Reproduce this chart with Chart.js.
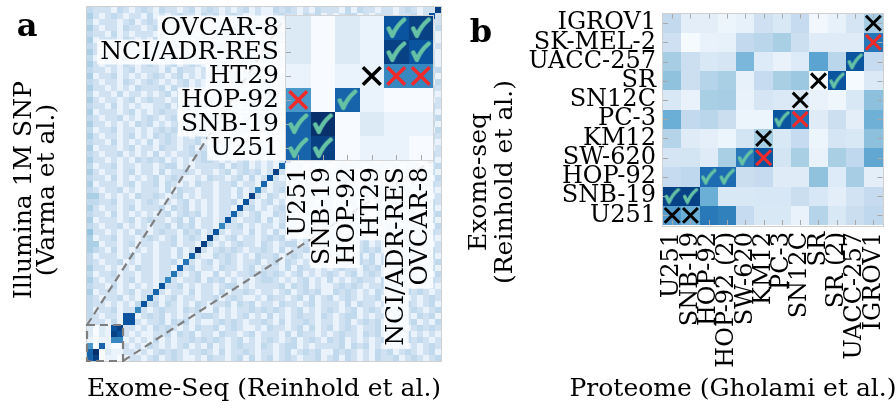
<!DOCTYPE html>
<html>
<head>
<meta charset="utf-8">
<script src="https://cdn.jsdelivr.net/npm/chart.js"></script>
<style>
  body { margin: 0; background: #fff; }
  #wrap { position: relative; width: 896px; height: 409px; overflow: hidden; }
  canvas { position: absolute; top: 0; }
</style>
</head>
<body>
<div id="wrap">
  <canvas id="big" width="450" height="409" style="left:0"></canvas>
  <canvas id="inset" width="450" height="409" style="left:0"></canvas>
  <canvas id="prot" width="446" height="409" style="left:450px"></canvas>
</div>
<script>
// ---- panel a: Exome-Seq vs Illumina SNP similarity, 59 lines
// one hex digit per cell (0 = white ... f = darkest), rows listed top -> bottom
const snpRows = [
  "4333143134 3143313413 4313134131 1434313143 3314143313 31343133e",
  "5313431331 4131343314 3413431131 1343314341 3134413133 3133413d3",
  "4133313413 4331341413 1413133434 3341434131 4134313341 313341c33",
  "5313314331 3431341313 1343431334 3414313143 4313413431 31334e314",
  "4331413133 3141334313 1334143413 4341313134 3134134341 3133d3131",
  "5133314313 1434313143 4131343314 1343314341 4331341413 313b31331",
  "4313341313 3341434131 3431341313 3414313143 3141334313 31d313413",
  "5331313431 4341313134 3143313413 3314143313 3413431131 3c1334131",
  "4133143131 3134413133 1413133434 4134313341 1343431334 e31341331",
  "5313314313 4313413431 1334143413 3134134341 313413313d 413431341",
  "4331313413 3314143313 1343314341 1413133434 31341331c3 341343134",
  "5133413131 3431341313 4313413431 4341313134 3133141d31 134314341",
  "4313314313 4313134131 4131343314 3134413133 313341b313 431341314",
  "5331313143 3341434131 1343431334 3141334313 31331d3413 314134343",
  "4133141331 3134134341 1434313143 3413431131 3133e31341 343413131",
  "5313313413 4331341413 4134313341 3414313143 313c313341 131434313",
  "4331413131 1334143413 3143313413 3314143313 31d3341313 434131343",
  "5133313413 1343314341 1413133434 3431341313 3c31331413 413431341",
  "4313341313 4313413431 4341313134 4313134131 d313413313 341343134",
  "5331313143 4131343314 3134413133 313341331e 3341434131 134314341",
  "4133413313 1343431334 3141334313 31331413c3 3134134341 431341314",
  "5313313413 1434313143 3413431131 3133141d31 4331341413 314134343",
  "4331413131 4134313341 3414313143 313341b313 1334143413 343413131",
  "5133313413 3143313413 3314143313 31331d3413 1343314341 131434313",
  "4313341313 1413133434 3431341313 3133c31341 4313413431 434131343",
  "5331313143 4341313134 4313134131 313d313341 4131343314 413431341",
  "4133413313 3134413133 3341434131 31c3341313 1343431334 341343134",
  "5313313413 3141334313 3134134341 3e31331413 1434313143 134314341",
  "4331413131 3413431131 4331341413 d313413313 4134313341 431341314",
  "5133313413 3414313143 313341331c 1334143413 3143313413 314134343",
  "4313341313 3314143313 31331413a3 1343314341 1413133434 343413131",
  "5531313143 3431341313 3133141e31 4313413431 4341313134 131434313",
  "4433413313 4313134131 313341d313 4131343314 3134413133 434131343",
  "5313313413 3341434131 31331d3413 1343431334 3141334313 413431341",
  "4331413131 3134134341 3133c31341 1434313143 3413431131 341343134",
  "5133313413 4331341413 313d313341 4134313341 3414313143 134314341",
  "4313341313 1334143413 31a3341313 3143313413 3314143313 431341314",
  "6331313143 1343314341 3d31331413 1413133434 3431341313 314134343",
  "5133413313 4313413431 e313413313 4341313134 4313134131 343413131",
  "5513313413 313341331e 4131343314 3134413133 3341434131 131434313",
  "5431413131 31331413f3 1343431334 3141334313 3134134341 434131343",
  "4133313413 3133141c31 1434313143 3413431131 4331341413 413431341",
  "4313341313 313341b313 4134313341 3414313143 1334143413 341343134",
  "5331313143 31331c3413 3143313413 3314143313 1343314341 134314341",
  "4133413313 3133b31341 1413133434 3431341313 4313413431 431341314",
  "5313313413 313a313341 4341313134 4313134131 4131343314 314134343",
  "4331413131 31d3341313 3134413133 3341434131 1343431334 343413131",
  "5133313413 3c31331413 3141334313 3134134341 1434313143 131434313",
  "4313341313 c313413313 3413431131 4331341413 4134313341 434131343",
  "433131314d 3414313143 1334143413 3143313413 3314143313 413431341",
  "41334133a3 1343314341 1413133434 3431341313 4313413431 341343134",
  "431331dd13 4341313134 4313134131 4131343314 3134413133 134314341",
  "333141dd31 3341434131 1343431334 3141334313 3134134341 431341314",
  "2021de3313 1434313143 3413431131 4331341413 4134313341 314134343",
  "2021ed3131 1334143413 3143313413 3314143313 1343314341 343413131",
  "1011aa1313 1413133434 3431341313 4313413431 4341313134 131434313",
  "90c1003131 4313134131 4131343314 3134413133 3341434131 434131343",
  "cf02113313 1343431334 3141334313 3134134341 1434313143 413431341",
  "ce01101331 3413431131 4331341413 4134313341 3414313143 341343134"
];

// zoomed corner (first 6 lines of the matrix), [col, row] with row 0 at the bottom
const insetLabels = ['U251', 'SNB-19', 'HOP-92', 'HT29', 'NCI/ADR-RES', 'OVCAR-8'];
const insetChecks = [[0, 0], [1, 0], [0, 1], [1, 1], [2, 2], [4, 4], [5, 4], [4, 5], [5, 5]];
const insetRedX = [[0, 2], [4, 3], [5, 3]];
const insetBlackX = [[3, 3]];

// ---- panel b: Exome-seq vs Proteome
const protCols = ['U251', 'SNB-19', 'HOP-92', 'HOP-92 (2)', 'SW-620', 'KM12', 'PC-3',
                  'SN12C', 'SR', 'SR (2)', 'UACC-257', 'IGROV1'];
// rows bottom -> top
const protRows = ['U251', 'SNB-19', 'HOP-92', 'SW-620', 'KM12', 'PC-3', 'SN12C', 'SR',
                  'UACC-257', 'SK-MEL-2', 'IGROV1'];
const protValues = [
  [58, 50, 72, 69, 25, 15, 15,  7, 30, 15, 23, 27],
  [93, 93, 50, 15, 15, 16, 16, 23, 16, 10, 19, 25],
  [25, 27, 77, 77, 23, 25, 12, 12, 41, 13, 35, 10],
  [17, 18, 12, 34, 72, 86, 18, 34,  7, 34, 27, 53],
  [30, 12,  9,  5, 18, 34, 15, 25,  5, 17, 15, 42],
  [50, 26, 29, 23,  5,  5, 86, 75, 12, 22, 10, 49],
  [15,  7, 34, 35,  7, 17, 14, 14,  7,  4, 15, 42],
  [41, 22, 30, 34,  8, 25, 34, 38,  1, 86,  1, 14],
  [35, 22, 15, 17, 46, 13,  7, 13, 55, 29, 86, 25],
  [21,  1,  7,  8, 26, 29, 34, 22, 12, 12, 12, 73],
  [26, 10, 10,  5,  8, 21, 15, 25,  3,  8, 17, 35]
];
const protChecks = [[0, 1], [1, 1], [2, 2], [3, 2], [4, 3], [6, 5], [9, 7], [10, 8]];
const protRedX = [[5, 3], [7, 5], [11, 9]];
const protBlackX = [[0, 0], [1, 0], [5, 4], [7, 6], [8, 7], [11, 10]];

// ---------------------------------------------------------------
const SERIF = "'DejaVu Serif', serif";
Chart.defaults.font.family = SERIF;
Chart.defaults.color = '#000';

const snp = snpRows.map(s => s.replace(/ /g, '').split('').map(c => parseInt(c, 16) / 15)).reverse();
snp.forEach((r, i) => { if (r.length !== 59) throw new Error('snp row ' + i + ' has ' + r.length); });
const insetValues = snp.slice(0, 6).map(r => r.slice(0, 6));
const protMatrix = protValues.map(r => r.map(v => v / 100));

// matplotlib "Blues"
const blues = ['#f7fbff', '#deebf7', '#c6dbef', '#9ecae1', '#6baed6', '#4292c6', '#2171b5', '#08519c', '#08306b']
  .map(h => [1, 3, 5].map(k => parseInt(h.substr(k, 2), 16)));
function blue(v) {
  v = Math.max(0, Math.min(1, v));
  const p = v * 8, i = Math.min(7, Math.floor(p)), t = p - i;
  const c = blues[i].map((a, k) => Math.round(a + (blues[i + 1][k] - a) * t));
  return 'rgb(' + c.join(',') + ')';
}

function makeHeatmap(values, nCols, nRows, tickSides, frameColor) {
  return {
    id: 'heatmap',
    beforeDatasetsDraw(chart) {
      const {ctx, chartArea: a, scales: {x, y}} = chart;
      ctx.save();
      for (let j = 0; j < nRows; j++) {
        for (let i = 0; i < nCols; i++) {
          const x0 = Math.round(x.getPixelForValue(i - 0.5));
          const x1 = Math.round(x.getPixelForValue(i + 0.5));
          const y0 = Math.round(y.getPixelForValue(j + 0.5));
          const y1 = Math.round(y.getPixelForValue(j - 0.5));
          ctx.fillStyle = blue(values[j][i]);
          ctx.fillRect(x0, y0, x1 - x0, y1 - y0);
        }
      }
      // short ticks pointing inwards
      ctx.strokeStyle = '#a8a8a8';
      ctx.lineWidth = 1;
      ctx.beginPath();
      for (let i = 0; i < nCols && tickSides.length; i++) {
        const px = Math.round(x.getPixelForValue(i)) + 0.5;
        if (tickSides.includes('bottom')) { ctx.moveTo(px, a.bottom); ctx.lineTo(px, a.bottom - 5); }
        if (tickSides.includes('top')) { ctx.moveTo(px, a.top); ctx.lineTo(px, a.top + 5); }
      }
      for (let j = 0; j < nRows && tickSides.length; j++) {
        const py = Math.round(y.getPixelForValue(j)) + 0.5;
        if (tickSides.includes('left')) { ctx.moveTo(a.left, py); ctx.lineTo(a.left + 5, py); }
        if (tickSides.includes('right')) { ctx.moveTo(a.right, py); ctx.lineTo(a.right - 5, py); }
      }
      ctx.stroke();
      ctx.strokeStyle = frameColor;
      ctx.strokeRect(Math.round(a.left) - 0.5, Math.round(a.top) - 0.5, Math.round(a.width) + 1, Math.round(a.height) + 1);
      ctx.restore();
    }
  };
}

function makeText(items) {
  return {
    id: 'texts',
    afterDraw(chart) {
      const ctx = chart.ctx;
      items.forEach(t => {
        ctx.save();
        ctx.translate(t.x, t.y);
        if (t.rot) ctx.rotate(t.rot * Math.PI / 180);
        ctx.font = t.font || ('25px ' + SERIF);
        ctx.fillStyle = '#000';
        ctx.textAlign = 'center';
        ctx.textBaseline = t.baseline || 'middle';
        ctx.fillText(t.text, 0, 0);
        ctx.restore();
      });
    }
  };
}

function checkMark(s) {
  const c = document.createElement('canvas');
  c.width = c.height = s;
  const g = c.getContext('2d');
  g.strokeStyle = '#66c2a5';
  g.lineWidth = s * 0.2;
  g.lineCap = 'round';
  g.lineJoin = 'round';
  g.beginPath();
  g.moveTo(s * 0.16, s * 0.52);
  g.lineTo(s * 0.32, s * 0.86);
  g.quadraticCurveTo(s * 0.5, s * 0.42, s * 0.86, s * 0.12);
  g.stroke();
  return c;
}

function markSets(checks, red, black, img, r, w) {
  const pts = arr => arr.map(([x, y]) => ({x, y}));
  return [
    {data: pts(checks), pointStyle: img, pointRadius: 8},
    {data: pts(red), pointStyle: 'crossRot', pointRadius: r, pointBorderWidth: w, pointBorderColor: '#ee2a2a'},
    {data: pts(black), pointStyle: 'crossRot', pointRadius: r, pointBorderWidth: w, pointBorderColor: '#000'}
  ];
}

function labelAxis(labels, n, opts) {
  return Object.assign({
    type: 'linear', min: -0.5, max: n - 0.5, bounds: 'data',
    grid: {display: false, drawTicks: false},
    border: {display: false},
    afterBuildTicks: s => { s.ticks = labels.map((_, i) => ({value: i})); }
  }, opts);
}

// ---- inset (drawn on top of the big matrix)
const insetTicks = {
  autoSkip: false, padding: 7, color: '#000',
  font: {size: 25, lineHeight: 1},
  showLabelBackdrop: true, backdropColor: 'rgba(255,255,255,0.85)',
  backdropPadding: {left: 3, right: 7, top: 0, bottom: 0},
  callback: v => insetLabels[v]
};
const insetChart = new Chart(document.getElementById('inset'), {
  type: 'scatter',
  data: {datasets: markSets(insetChecks, insetRedX, insetBlackX, checkMark(22), 12.5, 3.5)},
  options: {
    responsive: false, animation: false, events: [],
    layout: {padding: {left: 86, top: 14, right: 17, bottom: 59}},
    scales: {
      x: labelAxis(insetLabels, 6, {
        afterFit: s => { s.height = 190; s.paddingLeft = 0; s.paddingRight = 0; },
        ticks: Object.assign({}, insetTicks, {minRotation: 90, maxRotation: 90, labelOffset: -12.5})
      }),
      y: labelAxis(insetLabels, 6, {
        afterFit: s => { s.width = 200; s.paddingTop = 0; s.paddingBottom = 0; },
        ticks: insetTicks
      })
    },
    plugins: {legend: {display: false}, tooltip: {enabled: false}}
  },
  plugins: [makeHeatmap(insetValues, 6, 6, ['left', 'bottom'], '#d4d4d4')]
});

// dashed zoom guides from the bottom-left corner to the inset
const zoomLines = {
  id: 'zoomLines',
  afterDatasetsDraw(chart) {
    const {ctx, scales: {x, y}} = chart;
    const ia = insetChart.chartArea;
    const sx0 = x.getPixelForValue(-0.5), sx1 = x.getPixelForValue(5.5);
    const sy0 = y.getPixelForValue(5.5), sy1 = y.getPixelForValue(-0.5);
    ctx.save();
    ctx.strokeStyle = '#7f7f7f';
    ctx.lineWidth = 2.2;
    ctx.setLineDash([8, 5]);
    ctx.strokeRect(sx0, sy0, sx1 - sx0, sy1 - sy0);
    ctx.beginPath();
    ctx.moveTo(sx0, sy0); ctx.lineTo(ia.left, ia.top);
    ctx.moveTo(sx1, sy1); ctx.lineTo(ia.right, ia.bottom);
    ctx.stroke();
    ctx.restore();
  }
};

const bigChart = new Chart(document.getElementById('big'), {
  type: 'scatter',
  data: {datasets: []},
  options: {
    responsive: false, animation: false, events: [],
    layout: {padding: {left: 87, top: 7, right: 9, bottom: 48}},
    scales: {
      x: {type: 'linear', display: false, min: -0.5, max: 58.5},
      y: {type: 'linear', display: false, min: -0.5, max: 58.5}
    },
    plugins: {legend: {display: false}, tooltip: {enabled: false}}
  },
  plugins: [
    makeHeatmap(snp, 59, 59, [], '#d0d0d0'),
    zoomLines,
    makeText([
      {text: 'a', x: 27, y: 36, baseline: 'alphabetic', font: 'bold 32px ' + SERIF},
      {text: 'Exome-Seq (Reinhold et al.)', x: 264, y: 389},
      {text: 'Illumina 1M SNP', x: 24, y: 190, rot: -90},
      {text: '(Varma et al.)', x: 47, y: 190, rot: -90}
    ])
  ]
});

// ---- panel b
const protTicks = {autoSkip: false, padding: 7, color: '#000', font: {size: 24, lineHeight: 1}};
const protChart = new Chart(document.getElementById('prot'), {
  type: 'scatter',
  data: {datasets: markSets(protChecks, protRedX, protBlackX, checkMark(17), 10.5, 3)},
  options: {
    responsive: false, animation: false, events: [],
    layout: {padding: {left: 0, top: 13, right: 2, bottom: 0}},
    scales: {
      x: labelAxis(protCols, 12, {
        afterFit: s => { s.height = 184; s.paddingLeft = 0; s.paddingRight = 0; },
        ticks: Object.assign({}, protTicks, {minRotation: 90, maxRotation: 90, callback: v => protCols[v]})
      }),
      y: labelAxis(protRows, 11, {
        afterFit: s => { s.width = 213; s.paddingTop = 0; s.paddingBottom = 0; },
        ticks: Object.assign({}, protTicks, {callback: v => protRows[v]})
      })
    },
    plugins: {legend: {display: false}, tooltip: {enabled: false}}
  },
  plugins: [
    makeHeatmap(protMatrix, 12, 11, ['left', 'right', 'top', 'bottom'], '#d0d0d0'),
    makeText([
      {text: 'b', x: 31, y: 42, baseline: 'alphabetic', font: 'bold 32px ' + SERIF},
      {text: 'Proteome (Gholami et al.)', x: 283, y: 389},
      {text: 'Exome-seq', x: 29, y: 182, rot: -90},
      {text: '(Reinhold et al.)', x: 55, y: 182, rot: -90}
    ])
  ]
});
</script>
</body>
</html>
